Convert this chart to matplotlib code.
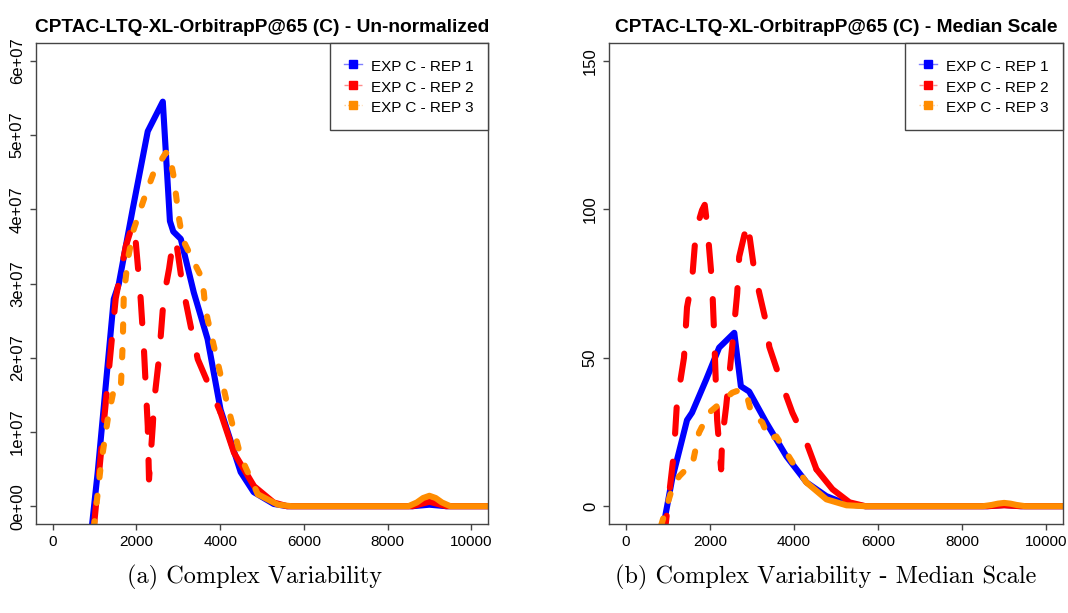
import matplotlib
matplotlib.use("Agg")
import matplotlib.pyplot as plt
from matplotlib.lines import Line2D
import numpy as np

# ---------------- data ----------------
# Panel (a): un-normalized intensities (units of 1e7)
rep1_a_x = [930, 1075, 1458, 1577, 1910, 2270, 2630, 2800, 2880, 3060, 3370, 3700, 4010, 4490, 4800, 5280, 5600, 8600, 9000, 9400, 10500]
rep1_a_y = [-0.3, 0.46, 2.79, 2.99, 4.0, 5.05, 5.45, 3.84, 3.7, 3.6, 2.88, 2.25, 1.3, 0.46, 0.19, 0.03, 0, 0, 0.02, 0, 0]

rep2_a_x = [980, 1505, 1745, 1910, 1985, 2100, 2180, 2270, 2300, 2390, 2420, 2540, 2650, 2780, 2870, 2940, 3100, 3345, 3465, 4010, 4330, 4810, 5280, 5600, 8600, 8800, 9000, 9200, 9400, 10500]
rep2_a_y = [-0.3, 2.8, 3.5, 3.8, 3.55, 2.8, 2.1, 1.08, 0.36, 1.08, 1.4, 2.0, 2.8, 3.2, 3.55, 3.6, 2.97, 2.29, 1.98, 1.26, 0.72, 0.27, 0.05, 0, 0, 0.03, 0.06, 0.03, 0, 0]

rep3_a_x = [980, 1147, 1314, 1458, 1625, 1673, 1697, 1792, 1935, 2175, 2415, 2700, 2780, 2890, 3010, 3100, 3300, 3540, 3610, 3640, 3700, 3940, 4180, 4490, 4900, 5380, 5700, 8500, 8700, 8850, 9000, 9150, 9300, 9500, 10500]
rep3_a_y = [-0.3, 0.54, 1.17, 1.57, 1.57, 2.2, 2.83, 3.32, 3.73, 4.13, 4.5, 4.76, 4.76, 4.44, 3.9, 3.6, 3.37, 3.1, 2.88, 2.7, 2.52, 1.94, 1.35, 0.67, 0.16, 0.02, 0, 0, 0.05, 0.11, 0.14, 0.11, 0.05, 0, 0]

# Panel (b): median-scaled values
rep1_b_x = [880, 1100, 1456, 1575, 1910, 2220, 2580, 2737, 2935, 3340, 3820, 4300, 4770, 5250, 5700, 8600, 9000, 9400, 10500]
rep1_b_y = [-7.8, 9.0, 29, 31.5, 42.6, 53.4, 58.4, 40.4, 38.6, 28.2, 16.8, 8.0, 3.4, 0.7, 0, 0, 0.4, 0, 0]

rep2_b_x = [900, 1145, 1217, 1384, 1456, 1575, 1670, 1813, 1877, 1933, 1981, 2053, 2100, 2172, 2267, 2291, 2387, 2530, 2650, 2697, 2864, 2896, 3055, 3175, 3340, 3413, 3651, 3962, 4296, 4535, 4917, 5322, 5700, 8600, 9000, 9400, 10500]
rep2_b_y = [-12, 18, 35, 50, 67, 76, 93, 99.7, 101.5, 95, 87, 75, 58.4, 29, 12.4, 22.5, 33.6, 53.7, 71.8, 84, 94, 95.7, 79.5, 71.8, 61.7, 53.7, 43.6, 31.5, 21.5, 12.4, 5.7, 1.3, 0, 0, 0.3, 0, 0]

rep3_b_x = [840, 1074, 1265, 1432, 1575, 1742, 1981, 2291, 2530, 2745, 2864, 2983, 3246, 3413, 3580, 3962, 4296, 4773, 5250, 5700, 8500, 8700, 8850, 9000, 9150, 9300, 9500, 10500]
rep3_b_y = [-6.5, 4.7, 10, 12.4, 13.4, 24.8, 31.5, 35.2, 38.2, 39.3, 38.2, 31.5, 28.2, 22.5, 23.5, 14.8, 8.0, 2.3, 0.3, 0, 0, 0.4, 0.85, 1.1, 0.85, 0.4, 0, 0]

series_labels = ["EXP C - REP 1", "EXP C - REP 2", "EXP C - REP 3"]
x_ticks = [0, 2000, 4000, 6000, 8000, 10000]
y_ticks_a = [0, 1e7, 2e7, 3e7, 4e7, 5e7, 6e7]
y_ticklabels_a = ["0e+00", "1e+07", "2e+07", "3e+07", "4e+07", "5e+07", "6e+07"]
y_ticks_b = [0, 50, 100, 150]
y_ticklabels_b = ["0", "50", "100", "150"]
titles = ["CPTAC-LTQ-XL-OrbitrapP@65 (C) - Un-normalized",
          "CPTAC-LTQ-XL-OrbitrapP@65 (C) - Median Scale"]
captions = ["(a) Complex Variability", "(b) Complex Variability - Median Scale"]

# ---------------- style ----------------
plt.rcParams['font.family'] = ['Liberation Sans', 'DejaVu Sans']
BLUE, RED, ORANGE = "#0000FF", "#FF0000", "#FF8C00"
LW = 4.4
AX_COL = "#444444"
RED_DASH = (4.3, 4.6)
ORANGE_DASH = (1.2, 3.0)

fig = plt.figure(figsize=(10.68, 6.13), dpi=100)
ax1 = fig.add_axes([36/1068, 89/613, 452/1068, 481/613])
ax2 = fig.add_axes([609/1068, 89/613, 454/1068, 481/613])


def split_at(x, y, x0):
    i = next(k for k, v in enumerate(x) if v >= x0)
    return (x[:i + 1], y[:i + 1]), (x[i:], y[i:])


def draw(ax, xs, ys, scale, red_solid_from, orange_solid_from):
    (x1, x2, x3), (y1, y2, y3) = xs, ys
    ax.plot(x1, np.array(y1) * scale, color=BLUE, lw=LW, solid_capstyle='round',
            solid_joinstyle='round')
    for (xx, yy), col, dash, thr in (((x2, y2), RED, RED_DASH, red_solid_from),
                                     ((x3, y3), ORANGE, ORANGE_DASH, orange_solid_from)):
        (xa, ya), (xb, yb) = split_at(xx, yy, thr)
        ln, = ax.plot(xa, np.array(ya) * scale, color=col, lw=LW,
                      dash_capstyle='round', dash_joinstyle='round')
        ln.set_dashes(dash)
        ax.plot(xb, np.array(yb) * scale, color=col, lw=LW,
                solid_capstyle='round', solid_joinstyle='round')


draw(ax1, (rep1_a_x, rep2_a_x, rep3_a_x), (rep1_a_y, rep2_a_y, rep3_a_y), 1e7, 4010, 4900)
draw(ax2, (rep1_b_x, rep2_b_x, rep3_b_x), (rep1_b_y, rep2_b_y, rep3_b_y), 1.0, 4535, 4296)

ax1.set_xlim(-400, 10400)
ax2.set_xlim(-400, 10400)
ax1.set_ylim(-0.24e7, 6.24e7)
ax2.set_ylim(-6, 156)

for ax, yt, ytl, title in ((ax1, y_ticks_a, y_ticklabels_a, titles[0]),
                           (ax2, y_ticks_b, y_ticklabels_b, titles[1])):
    ax.set_xticks(x_ticks)
    ax.set_xticklabels([str(t) for t in x_ticks], fontsize=11)
    ax.set_yticks(yt)
    ax.set_yticklabels(ytl, fontsize=12)
    for lab in ax.get_yticklabels():
        lab.set_rotation(90)
        lab.set_va('center')
    ax.tick_params(direction='out', length=4.5, width=1, color=AX_COL, pad=3.5)
    for s in ax.spines.values():
        s.set_color(AX_COL)
        s.set_linewidth(1)
    ax.set_title(title, fontsize=13.8, fontweight='bold', pad=8)

    handles = [
        Line2D([], [], color=(0, 0, 1, 0.5), lw=1, ls='-', marker='s', ms=6,
               mfc=BLUE, mec=BLUE),
        Line2D([], [], color=(1, 0, 0, 0.45), lw=1, ls=(0, (3, 2)), marker='s', ms=6,
               mfc=RED, mec=RED),
        Line2D([], [], color=(1, 0.55, 0, 0.45), lw=1, ls=(0, (1, 1.5)), marker='s', ms=6,
               mfc=ORANGE, mec=ORANGE),
    ]
    leg = ax.legend(handles, series_labels, loc='upper right', bbox_to_anchor=(1, 1),
                    borderaxespad=0, fancybox=False, edgecolor=AX_COL, framealpha=1,
                    fontsize=11, handlelength=1.2, handletextpad=0.55,
                    handleheight=1.4, labelspacing=0.18, borderpad=0.95)
    leg.get_frame().set_linewidth(1)

fig.text(255/1068, 1 - 577/613, captions[0], family='cmr10', fontsize=17.5,
         ha='center', va='center')
fig.text(826/1068, 1 - 577/613, captions[1], family='cmr10', fontsize=17.5,
         ha='center', va='center')

fig.savefig("out.png", dpi=100)
